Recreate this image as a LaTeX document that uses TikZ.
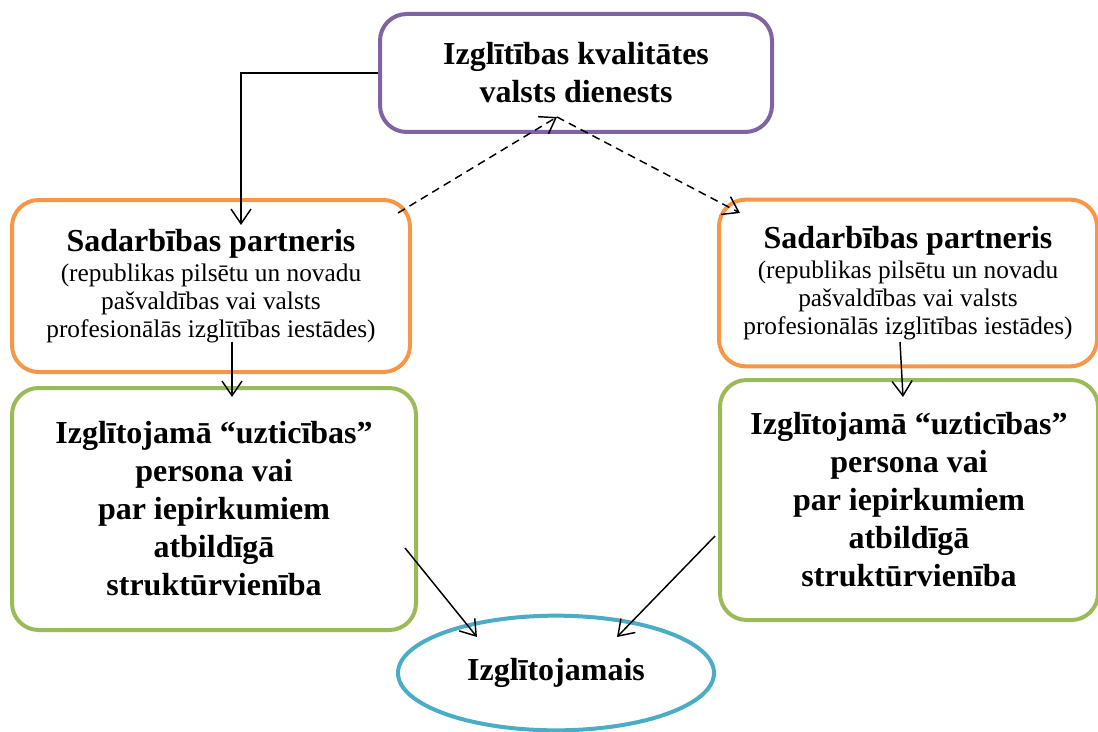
\documentclass[tikz,border=0pt]{standalone}
\usepackage{fontspec}
\setmainfont{Liberation Serif}
\usetikzlibrary{arrows.meta,shapes.geometric}
\definecolor{dienests}{RGB}{128,100,162}
\definecolor{partneris}{RGB}{247,150,70}
\definecolor{persona}{RGB}{155,187,89}
\definecolor{izglitojamais}{RGB}{75,172,198}
\newcommand\mazs{\fontsize{19}{21}\selectfont\mdseries}
\begin{document}
\begin{tikzpicture}[x=0.75pt,y=-0.75pt,
box/.style={draw,line width=3pt,rounded corners=20pt,align=center,inner sep=0pt,font=\fontsize{24}{28.5}\selectfont\bfseries},
con/.style={line width=1.1pt,-{Straight Barb[length=11pt,width=15pt]}}]
\useasboundingbox(0,0)rectangle(1098,731);
\node[box,draw=dienests,minimum width=294pt,minimum height=88.5pt](vd)at(576,73){Izglītības kvalitātes\\valsts dienests};
\node[box,draw=partneris,minimum width=298.5pt,minimum height=129pt](sp1)at(211,286){Sadarbības partneris\\[-5.5pt]\mazs(republikas pilsētu un novadu\\[-7.5pt]\mazs pašvaldības vai valsts\\[-7.5pt]\mazs profesionālās izglītības iestādes)};
\node[box,draw=partneris,minimum width=283.5pt,minimum height=125pt](sp2)at(908,283){Sadarbības partneris\\[-5.5pt]\mazs(republikas pilsētu un novadu\\[-7.5pt]\mazs pašvaldības vai valsts\\[-7.5pt]\mazs profesionālās izglītības iestādes)};
\node[box,draw=persona,minimum width=303pt,minimum height=181.5pt](up1)at(214,509){Izglītojamā “uzticības”\\persona vai\\par iepirkumiem\\atbildīgā\\struktūrvienība};
\node[box,draw=persona,minimum width=283.5pt,minimum height=180pt](up2)at(909,500){Izglītojamā “uzticības”\\persona vai\\par iepirkumiem\\atbildīgā\\struktūrvienība};
\node[box,ellipse,draw=izglitojamais,minimum width=237pt,minimum height=86pt](iz)at(556,673){Izglītojamais};
\coordinate(k1)at(241,225);
\coordinate(d0)at(398,213);
\coordinate(d1)at(557,117);
\coordinate(d2)at(740,213);
\coordinate(s1)at(232,342);\coordinate(g1)at(232,397);
\coordinate(s2)at(900,342);\coordinate(g2)at(903,397);
\coordinate(p1)at(405,548);\coordinate(e1)at(477,637);
\coordinate(p2)at(715,536);\coordinate(e2)at(617,637);
\draw[con](vd.west)-|(k1);
\draw[con,dash pattern=on 6pt off 4pt](d0)--(d1);
\draw[con,dash pattern=on 6pt off 4pt](d1)--(d2);
\foreach \a/\b in {s1/g1,s2/g2,p1/e1,p2/e2}\draw[con](\a)--(\b);
\end{tikzpicture}
\end{document}
